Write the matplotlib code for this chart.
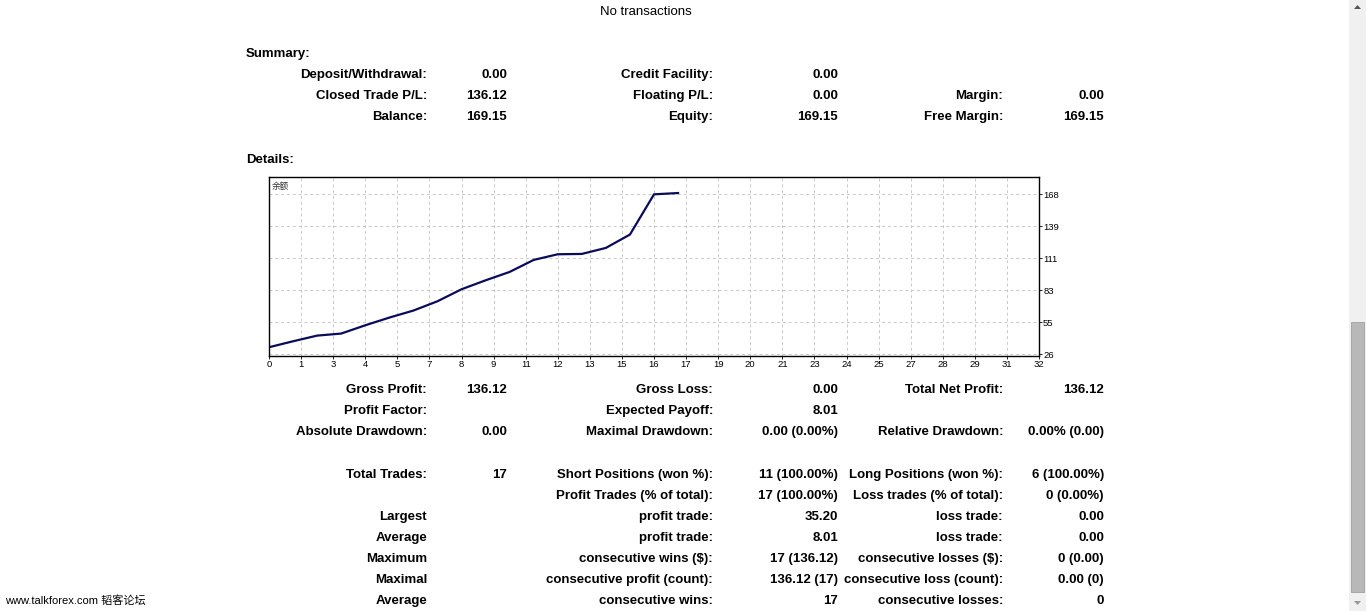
import matplotlib
matplotlib.use("Agg")
import matplotlib.pyplot as plt
import numpy as np
from matplotlib.patches import Rectangle, Polygon

W, H = 1366, 611

# ---------------- data ----------------
trade_index = list(range(18))
balance = [33.03, 38.3, 43.3, 45.1, 52.4, 59.2, 65.4, 73.6, 84.2, 92.1,
           99.5, 110.1, 115.1, 115.4, 120.7, 132.5, 168.0, 169.15]
x_tick_labels = ["0", "1", "3", "4", "5", "7", "8", "9", "11", "12", "13", "15", "16",
                 "17", "19", "20", "21", "23", "24", "25", "27", "28", "29", "31", "32"]
y_tick_labels = ["26", "55", "83", "111", "139", "168"]
chart_label = "余额"

summary_rows = [
    [("Deposit/Withdrawal:", "0.00"), ("Credit Facility:", "0.00"), ("", "")],
    [("Closed Trade P/L:", "136.12"), ("Floating P/L:", "0.00"), ("Margin:", "0.00")],
    [("Balance:", "169.15"), ("Equity:", "169.15"), ("Free Margin:", "169.15")],
]
detail_rows = [
    (388, [("Gross Profit:", "136.12"), ("Gross Loss:", "0.00"), ("Total Net Profit:", "136.12")]),
    (409, [("Profit Factor:", ""), ("Expected Payoff:", "8.01"), ("", "")]),
    (430, [("Absolute Drawdown:", "0.00"), ("Maximal Drawdown:", "0.00 (0.00%)"), ("Relative Drawdown:", "0.00% (0.00)")]),
    (473, [("Total Trades:", "17"), ("Short Positions (won %):", "11 (100.00%)"), ("Long Positions (won %):", "6 (100.00%)")]),
    (494, [("", ""), ("Profit Trades (% of total):", "17 (100.00%)"), ("Loss trades (% of total):", "0 (0.00%)")]),
    (515, [("Largest", ""), ("profit trade:", "35.20"), ("loss trade:", "0.00")]),
    (536, [("Average", ""), ("profit trade:", "8.01"), ("loss trade:", "0.00")]),
    (557, [("Maximum", ""), ("consecutive wins ($):", "17 (136.12)"), ("consecutive losses ($):", "0 (0.00)")]),
    (578, [("Maximal", ""), ("consecutive profit (count):", "136.12 (17)"), ("consecutive loss (count):", "0.00 (0)")]),
    (599, [("Average", ""), ("consecutive wins:", "17"), ("consecutive losses:", "0")]),
]

# ---------------- styling ----------------
FONT = "Liberation Sans"
FS = 9.5
DY = 2  # vertical nudge (px) so text centres match
label_right = [427, 713, 1003]
value_right = [507, 838, 1104]

fig = plt.figure(figsize=(W / 100, H / 100), dpi=100)
fig.patch.set_facecolor("white")


def px(x, y):
    return x / W, 1 - y / H


def t(x, y, s, ha="right", weight="bold", size=FS, family=FONT, color="#000000"):
    if not s:
        return
    fx, fy = px(x, y + DY)
    fig.text(fx, fy, s, ha=ha, va="center", fontsize=size, fontweight=weight,
             family=family, color=color)


t(646, 10, "No transactions", ha="center", weight="normal")
t(246, 52, "Summary:", ha="left")
for i, row in enumerate(summary_rows):
    y = 73 + 21 * i
    for c, (lab, val) in enumerate(row):
        t(label_right[c], y, lab)
        t(value_right[c], y, val)
t(246, 158, "Details:", ha="left")

for y, row in detail_rows:
    for c, (lab, val) in enumerate(row):
        t(label_right[c], y, lab)
        t(value_right[c], y, val)

# watermark
fx, fy = px(5, 601)
fig.text(fx, fy, "www.talkforex.com 韬客论坛", ha="left", va="center", fontsize=8.0,
         family=["Liberation Sans", "Noto Sans CJK SC"], color="#000000")

# ---------------- chart ----------------
L, R, T, B = 269, 1039, 177, 356
ax = fig.add_axes([L / W, 1 - B / H, (R - L) / W, (B - T) / H])
ax.plot(trade_index, balance, color="#0b0b5c", lw=1.6, solid_joinstyle="round")
ax.set_xlim(0, 32)
ymin_tick, ystep = 26.8, 28.25
y_pos = [ymin_tick + ystep * k for k in range(len(y_tick_labels))]
ax.set_ylim(25.3, 183.3)
ax.set_xticks([k * 32 / (len(x_tick_labels) - 1) for k in range(len(x_tick_labels))])
ax.set_xticklabels(x_tick_labels)
ax.set_yticks(y_pos)
ax.set_yticklabels(y_tick_labels)
ax.yaxis.tick_right()
ax.tick_params(axis="both", labelsize=6.8, length=2, width=0.6, pad=1.0, colors="#000000")
for lab in ax.get_xticklabels() + ax.get_yticklabels():
    lab.set_family(FONT)
ax.grid(True, color="#c8c8c8", lw=0.7, ls=(0, (3, 3)))
for sp in ax.spines.values():
    sp.set_color("#000000")
    sp.set_linewidth(1.0)
ax.text(0.003, 0.975, chart_label, transform=ax.transAxes, fontsize=6.2, va="top",
        ha="left", family=["Noto Sans CJK SC"], color="#333333")

# ---------------- scrollbar ----------------
sx0 = 1349
fig.patches.append(Rectangle(px(sx0, 611), (W - sx0) / W, 1.0, transform=fig.transFigure,
                             facecolor="#f0f0f0", edgecolor="none"))
fig.patches.append(Rectangle(px(1351, 592), 13 / W, (592 - 322) / H, transform=fig.transFigure,
                             facecolor="#b8b8b8", edgecolor="#a0a0a0", lw=0.6))
fig.patches.append(Polygon([px(1354, 9), px(1361, 9), px(1357.5, 5)], closed=True,
                           transform=fig.transFigure, facecolor="#555555", edgecolor="none"))
fig.patches.append(Polygon([px(1354, 601), px(1361, 601), px(1357.5, 605)], closed=True,
                           transform=fig.transFigure, facecolor="#999999", edgecolor="none"))

fig.savefig("out.png", dpi=100, facecolor="white")
